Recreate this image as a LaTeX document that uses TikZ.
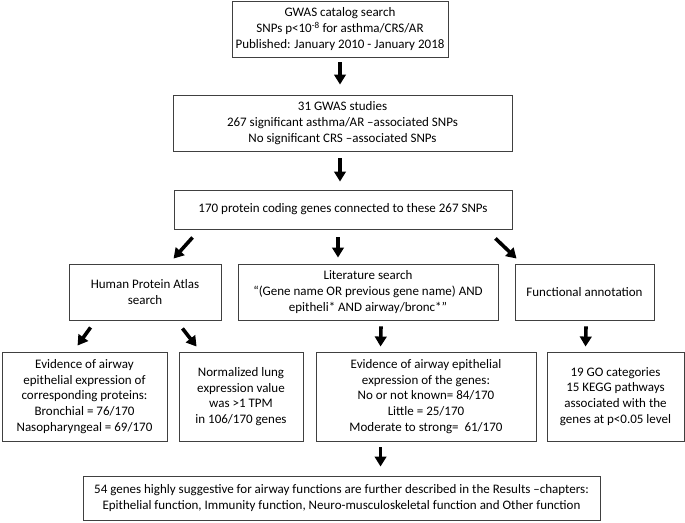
\documentclass[tikz,border=0pt]{standalone}
\usepackage{fontspec}
\setmainfont{Carlito}
\usepackage{xcolor}
\colorlet{BoxBorder}{black!75}
\colorlet{ArrowColor}{black}
\usetikzlibrary{arrows.meta, calc}

\begin{document}
\begin{tikzpicture}[x=1pt, y=-1pt,
  box/.style={draw=BoxBorder, line width=0.9pt, align=center, inner sep=0pt,
    font=\fontsize{13}{15.8}\selectfont},
  bigarrow/.style={draw=ArrowColor, line width=3.6pt,
    -{Triangle[width=11.5pt, length=10pt]}}]

\useasboundingbox (0,0) rectangle (685,522);

\node[box, minimum width=216pt, minimum height=56pt] (search) at (340,29)
  {GWAS catalog search\\SNPs p<10\textsuperscript{-8} for asthma/CRS/AR\\Published: January 2010 - January 2018};
\node[box, minimum width=339pt, minimum height=56pt] (studies) at (342.5,123)
  {31 GWAS studies\\267 significant asthma/AR –associated SNPs\\No significant CRS –associated SNPs};
\node[box, minimum width=338pt, minimum height=39pt] (genes) at (343,209.5)
  {170 protein coding genes connected to these 267 SNPs};

\node[box, minimum width=152pt, minimum height=56pt] (hpa) at (145,292)
  {Human Protein Atlas\\search};
\node[box, minimum width=260pt, minimum height=56pt] (lit) at (368,292)
  {Literature search\\“(Gene name OR previous gene name) AND\\epitheli* AND airway/bronc*”};
\node[box, minimum width=139pt, minimum height=56pt] (func) at (584.5,292)
  {Functional annotation};

\node[box, minimum width=165pt, minimum height=89pt] (evid) at (84.5,396.5)
  {Evidence of airway\\epithelial expression of\\corresponding proteins:\\Bronchial = 76/170\\Nasopharyngeal = 69/170};
\node[box, minimum width=124pt, minimum height=89pt] (lung) at (241,396.5)
  {Normalized lung\\expression value\\was >1 TPM\\in 106/170 genes};
\node[box, minimum width=220pt, minimum height=89pt] (epi) at (426,396.5)
  {Evidence of airway epithelial\\expression of the genes:\\No or not known= 84/170\\Little = 25/170\\Moderate to strong=\ \ 61/170};
\node[box, minimum width=137pt, minimum height=89pt] (go) at (615.5,396.5)
  {19 GO categories\\15 KEGG pathways\\associated with the\\genes at p<0.05 level};

\node[box, minimum width=517pt, minimum height=44pt] (final) at (341.5,498)
  {54 genes highly suggestive for airway functions are further described in the Results –chapters:\\Epithelial function, Immunity function, Neuro-musculoskeletal function and Other function};

% Flechas gruesas entre las cajas, sin tocar los bordes.
\draw[bigarrow] ($(search.south)+(0,5)$) -- ($(search.south |- studies.north)+(0,-10)$);
\draw[bigarrow] ($(search.south |- studies.south)+(0,7)$) -- ($(search.south |- genes.north)+(0,-8)$);

\draw[bigarrow] ($(genes.south west)+(19,8)$) -- ($(hpa.north west)+(105,-5)$);
\draw[bigarrow] ($(genes.south)+(-5,8)$) -- ($(genes.south |- lit.north)+(-5,-6)$);
\draw[bigarrow] ($(genes.south east)+(-17,9)$) -- ($(func.north west)+(2,-5)$);

\draw[bigarrow] ($(hpa.south west)+(22,7)$) -- ($(evid.north west)+(76,-6)$);
\draw[bigarrow] ($(hpa.south east)+(-39,8)$) -- ($(lung.north west)+(18,-5)$);
\draw[bigarrow] ($(lit.south)+(13,6)$) -- ($(epi.north west)+(65,-5)$);
\draw[bigarrow] ($(func.south)+(1.5,6)$) -- ($(go.north west)+(39,-5)$);

\draw[bigarrow] ($(epi.south west)+(65,6)$) -- ($(final.north west)+(298,-9)$);

\end{tikzpicture}
\end{document}
